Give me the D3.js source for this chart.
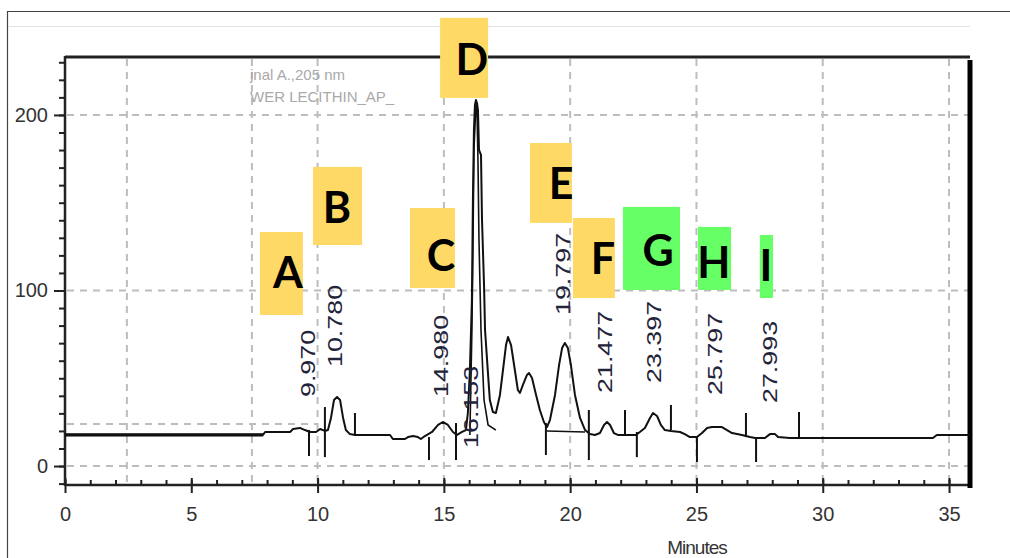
<!DOCTYPE html>
<html>
<head>
<meta charset="utf-8">
<script src="https://cdn.jsdelivr.net/npm/d3@7"></script>
<style>
  body { margin: 0; background: #fff; }
  svg { display: block; }
</style>
</head>
<body>
<script>
// chromatogram trace, time in minutes / signal
var traceTime = [0, 7.84, 7.92, 8.91, 9.03, 9.30, 9.50, 9.70, 9.94, 10.10, 10.29, 10.41, 10.53, 10.65, 10.77, 10.89, 11.01, 11.12, 11.28, 11.48,
  12.87, 12.98, 13.46, 13.58, 13.78, 13.97, 14.09, 14.25, 14.53, 14.77, 14.96, 15.16, 15.36, 15.52, 15.72, 15.87,
  15.95, 16.03, 16.11, 16.15, 16.19, 16.23, 16.27, 16.31, 16.35, 16.39, 16.47, 16.51, 16.59, 16.63, 16.75, 16.82, 16.94, 17.06,
  17.22, 17.34, 17.46, 17.54, 17.66, 17.81, 17.93, 18.01, 18.13, 18.29, 18.37, 18.49, 18.65, 18.80, 18.96, 19.08,
  19.20, 19.40, 19.56, 19.68, 19.79, 19.91, 20.03, 20.19, 20.39, 20.59, 20.78, 20.98, 21.18, 21.34, 21.46, 21.58, 21.73, 21.89,
  22.60, 22.76, 22.96, 23.16, 23.28, 23.44, 23.59, 23.75, 23.99, 24.35, 24.54, 24.74, 25.02, 25.22, 25.42, 25.61, 26.01, 26.21,
  26.41, 26.80, 27.12, 27.32, 27.71, 27.91, 28.11, 28.23, 28.70, 34.36, 34.52, 35.83];
var traceSignal = [17.7, 17.7, 19.4, 19.4, 21.1, 21.7, 20.5, 19.4, 19.4, 21.1, 20.0, 20.5, 27.4, 37.6, 39.3, 37.6, 27.4, 20.5, 18.2, 17.7,
  17.7, 15.4, 15.4, 16.5, 17.1, 16.5, 15.4, 17.1, 19.4, 23.4, 25.1, 23.4, 19.4, 17.7, 19.4, 20.5,
  30.2, 54.7, 94.6, 151.6, 191.5, 205.7, 208.5, 206.8, 202.8, 180.1, 177.2, 140.2, 103.1, 77.5, 51.9, 37.6, 30.8, 30.2,
  40.5, 54.7, 68.9, 73.5, 68.9, 54.7, 43.3, 41.6, 46.2, 51.9, 53.0, 50.1, 40.5, 31.9, 25.1, 22.2,
  26.2, 40.5, 57.5, 67.2, 70.1, 67.2, 57.5, 40.5, 27.4, 20.5, 18.2, 17.7, 18.8, 23.4, 25.1, 23.4, 18.8, 17.7,
  17.7, 19.4, 21.7, 27.4, 30.2, 28.5, 23.4, 20.5, 19.9, 19.4, 18.2, 16.5, 16.5, 18.8, 21.7, 22.2, 22.2, 20.5,
  18.8, 17.7, 16.5, 16.0, 16.0, 18.2, 18.2, 16.5, 16.0, 16.0, 17.7, 17.7];

// inner line of the main peak
var innerTime = [16.03, 16.11, 16.15, 16.19, 16.27, 16.31, 16.35, 16.39, 16.47, 16.59, 16.75, 17.06];
var innerSignal = [17.7, 77.5, 123, 180.1, 205.7, 204, 174.4, 128.7, 77.5, 37.6, 23.4, 20.5];

// integration baseline piece after peak E
var baseStart = [19.08];
var baseEnd = [20.59];
var baseStartVal = [20.0];
var baseEndVal = [19.4];

// peak start / end markers
var markTime = [9.66, 10.29, 11.48, 14.41, 15.48, 19.04, 20.74, 22.17, 22.64, 23.99, 25.02, 26.96, 27.36, 29.06];
var markTop = [20.5, 33.6, 30.2, 16.5, 24.5, 24.5, 31.9, 31.9, 19.4, 34.8, 16.5, 30.2, 16.5, 30.8];
var markBottom = [5.7, 5.1, 17.7, 3.4, 3.4, 6.3, 3.4, 17.7, 5.1, 20.5, 2.3, 16.5, 2.3, 16.0];

// retention time labels
var rtLabels = ["9.970", "10.780", "14.980", "16.153", "19.797", "21.477", "23.397", "25.797", "27.993"];
var rtTime = [9.70, 10.78, 14.98, 16.153, 19.797, 21.477, 23.397, 25.797, 27.993];
var rtLevel = [39.3, 56.4, 39.3, 10.3, 86.0, 41.6, 47.3, 40.5, 35.9];

// letter call-outs
var calloutLetter = ["A", "B", "C", "D", "E", "F", "G", "H", "I"];
var calloutGroup = ["y", "y", "y", "y", "y", "y", "g", "g", "g"];
var calloutT0 = [7.72, 9.82, 13.66, 14.85, 18.41, 20.11, 22.09, 25.06, 27.51];
var calloutT1 = [9.42, 11.76, 15.44, 16.75, 20.07, 21.77, 24.35, 26.37, 28.03];
var calloutV0 = [86.0, 125.9, 101.4, 209.7, 138.5, 95.7, 100.3, 100.3, 95.7];
var calloutV1 = [133.3, 170.4, 147.0, 255.3, 184.0, 141.3, 147.6, 136.2, 131.6];
var calloutTextT = [8.83, 10.77, 14.89, 16.11, 19.64, 21.30, 23.48, 25.69, 27.75];
var calloutTextV = [110.5, 147.0, 120.2, 231.3, 160.7, 118.0, 122.5, 116.2, 114.0];

var yMajor = [0, 100, 200];
var xMajor = [0, 5, 10, 15, 20, 25, 30, 35];
var xGrid = [2.45, 7.4, 10, 15, 20, 25, 30, 35];
var yGrid = [0, 100, 200];

var width = 1010, height = 558;

var svg = d3.select("body").append("svg")
  .attr("width", width)
  .attr("height", height)
  .style("font-family", "'Liberation Sans', Arial, sans-serif");

var x = d3.scaleLinear().domain([0, 35.83]).range([65, 970]);
var y = d3.scaleLinear().domain([-10.8, 233]).range([485, 57]);

// outer frame of the screenshot
svg.append("line").attr("x1", 7).attr("x2", 1010).attr("y1", 11.5).attr("y2", 11.5)
  .attr("stroke", "#444").attr("stroke-width", 1.2);
svg.append("line").attr("x1", 7.5).attr("x2", 7.5).attr("y1", 11).attr("y2", 558)
  .attr("stroke", "#444").attr("stroke-width", 1.2);
svg.append("line").attr("x1", 8).attr("x2", 970).attr("y1", 26.5).attr("y2", 26.5)
  .attr("stroke", "#e2e2e2").attr("stroke-width", 1);

// grid
var grid = svg.append("g").attr("stroke", "#bdbdbd").attr("stroke-width", 2)
  .attr("stroke-dasharray", "7,6");
grid.selectAll(".gx").data(xGrid).enter().append("line")
  .attr("x1", function(d) { return x(d); })
  .attr("x2", function(d) { return x(d); })
  .attr("y1", 59).attr("y2", 483);
grid.selectAll(".gy").data(yGrid).enter().append("line")
  .attr("x1", 67).attr("x2", 968)
  .attr("y1", function(d) { return y(d); })
  .attr("y2", function(d) { return y(d); });
grid.append("line")
  .attr("x1", 67).attr("x2", x(10))
  .attr("y1", y(23.9)).attr("y2", y(23.9));

// faded signal caption
var cap = svg.append("g").attr("fill", "#a9a9a9").style("font-size", "15px");
cap.append("text").attr("x", 250).attr("y", 80).text("jnal A.,205 nm");
cap.append("text").attr("x", 250).attr("y", 102).text("WER LECITHIN_AP_");

// axes
var yAxisMinor = d3.axisLeft(y).tickValues(d3.range(-10, 231, 10)).tickSize(6).tickFormat("");
var yAxis = d3.axisLeft(y).tickValues(yMajor).tickSize(11).tickPadding(6);
var xAxisMinor = d3.axisBottom(x).tickValues(d3.range(0, 36, 1)).tickSize(-5).tickFormat("");
var xAxis = d3.axisBottom(x).tickValues(xMajor).tickSize(8).tickPadding(14);

function styleAxis(g) {
  g.select(".domain").remove();
  g.selectAll("line").attr("stroke", "#222").attr("stroke-width", 2);
  g.selectAll("text").attr("fill", "#333").style("font-size", "20px")
    .style("font-family", "'Liberation Sans', Arial, sans-serif");
}

svg.append("g").attr("transform", "translate(65,0)").call(yAxisMinor).call(styleAxis);
svg.append("g").attr("transform", "translate(65,0)").call(yAxis).call(styleAxis);
svg.append("g").attr("transform", "translate(0,485)").call(xAxisMinor).call(styleAxis);
var xg = svg.append("g").attr("transform", "translate(0,485)").call(xAxis).call(styleAxis);
xg.selectAll(".tick line").attr("y1", -7);

svg.append("text").attr("x", 697).attr("y", 554).attr("text-anchor", "middle")
  .attr("fill", "#333").style("font-size", "19px").style("letter-spacing", "-1px").text("Minutes");

// plot frame
svg.append("line").attr("x1", 65).attr("x2", 970).attr("y1", 57).attr("y2", 57)
  .attr("stroke", "#222").attr("stroke-width", 3);
svg.append("line").attr("x1", 65).attr("x2", 65).attr("y1", 56).attr("y2", 486)
  .attr("stroke", "#222").attr("stroke-width", 2.5);
svg.append("line").attr("x1", 65).attr("x2", 970).attr("y1", 485).attr("y2", 485)
  .attr("stroke", "#222").attr("stroke-width", 2.5);
svg.append("line").attr("x1", 970).attr("x2", 970).attr("y1", 60).attr("y2", 488)
  .attr("stroke", "#000").attr("stroke-width", 5);

// trace
var trace = traceTime.map(function(t, i) { return [t, traceSignal[i]]; });
var inner = innerTime.map(function(t, i) { return [t, innerSignal[i]]; });
var line = d3.line().x(function(d) { return x(d[0]); }).y(function(d) { return y(d[1]); });

svg.append("path").datum(trace.filter(function(d) { return d[0] <= 7.84; }))
  .attr("d", line).attr("fill", "none").attr("stroke", "#000").attr("stroke-width", 3.2);
svg.append("path").datum(trace)
  .attr("d", line).attr("fill", "none").attr("stroke", "#111").attr("stroke-width", 2)
  .attr("stroke-linejoin", "round");
svg.append("path").datum(inner)
  .attr("d", line).attr("fill", "none").attr("stroke", "#111").attr("stroke-width", 1.6);

svg.selectAll(".base").data(baseStart).enter().append("line")
  .attr("x1", function(d) { return x(d); })
  .attr("x2", function(d, i) { return x(baseEnd[i]); })
  .attr("y1", function(d, i) { return y(baseStartVal[i]); })
  .attr("y2", function(d, i) { return y(baseEndVal[i]); })
  .attr("stroke", "#111").attr("stroke-width", 1.6);

// peak markers
svg.selectAll(".mark").data(markTime).enter().append("line")
  .attr("x1", function(d) { return x(d); })
  .attr("x2", function(d) { return x(d); })
  .attr("y1", function(d, i) { return y(markTop[i]); })
  .attr("y2", function(d, i) { return y(markBottom[i]); })
  .attr("stroke", "#111").attr("stroke-width", 2);

// retention time labels
svg.selectAll(".rt").data(rtLabels).enter().append("text")
  .attr("transform", function(d, i) {
    return "translate(" + (x(rtTime[i]) + 5) + "," + y(rtLevel[i]) + ") rotate(-90) scale(1.28,1)";
  })
  .attr("fill", "#23233a").style("font-size", "21px")
  .text(function(d) { return d; });

// call-out boxes
var boxColor = { y: "#ffd966", g: "#66ff66" };
svg.selectAll(".box").data(calloutLetter).enter().append("rect")
  .attr("x", function(d, i) { return x(calloutT0[i]); })
  .attr("y", function(d, i) { return y(calloutV1[i]); })
  .attr("width", function(d, i) { return x(calloutT1[i]) - x(calloutT0[i]); })
  .attr("height", function(d, i) { return y(calloutV0[i]) - y(calloutV1[i]); })
  .attr("fill", function(d, i) { return boxColor[calloutGroup[i]]; });

svg.selectAll(".letter").data(calloutLetter).enter().append("text")
  .attr("x", function(d, i) { return x(calloutTextT[i]); })
  .attr("y", function(d, i) { return y(calloutTextV[i]); })
  .attr("text-anchor", "middle")
  .attr("dy", "0.36em")
  .style("font-family", "Lato, 'Open Sans', sans-serif")
  .style("font-weight", "bold")
  .style("font-size", "43px")
  .attr("fill", "#000")
  .text(function(d) { return d; });
</script>
</body>
</html>
